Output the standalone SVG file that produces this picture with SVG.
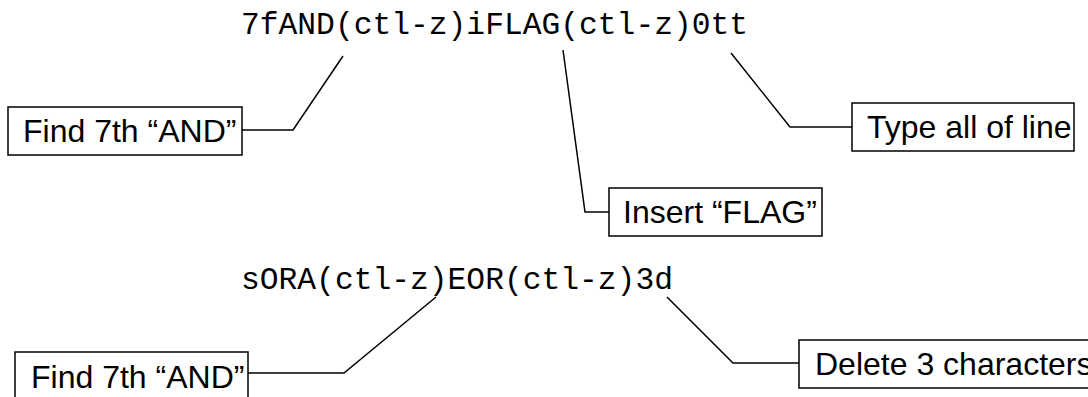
<svg xmlns="http://www.w3.org/2000/svg" width="1088" height="397" viewBox="0 0 1088 397">
<style>
.code{font-family:"Liberation Mono","Courier New",monospace;font-size:31.3px;fill:#000}
.lbl{font-family:"Liberation Sans",Arial,sans-serif;font-size:32px;fill:#000}
.box{fill:#fff;stroke:#000;stroke-width:1.5}
.conn{fill:none;stroke:#000;stroke-width:1.5}
</style>
<rect width="1088" height="397" fill="#fff"/>
<g id="code-top"><text class="code" x="241" y="34">7fAND(ctl-z)iFLAG(ctl-z)0tt</text></g>
<g id="code-bottom"><text class="code" x="241" y="289">sORA(ctl-z)EOR(ctl-z)3d</text></g>
<g id="connectors">
<polyline class="conn" points="343,56 293,130 242,130"/>
<polyline class="conn" points="563,50 585,212 609,212"/>
<polyline class="conn" points="731,53 790,127 852,127"/>
<polyline class="conn" points="436,297 344,373 248,373"/>
<polyline class="conn" points="667,297 733,363 799,363"/>
</g>
<g id="n-find-top"><rect class="box" x="8" y="107" width="234" height="48"/><text class="lbl" x="23" y="142">Find 7th “AND”</text></g>
<g id="n-insert"><rect class="box" x="609" y="188" width="213" height="48"/><text class="lbl" x="623" y="223">Insert “FLAG”</text></g>
<g id="n-type"><rect class="box" x="852" y="103" width="222" height="48"/><text class="lbl" x="867" y="138">Type all of line</text></g>
<g id="n-find-bottom"><rect class="box" x="15" y="352" width="233" height="48"/><text class="lbl" x="31" y="388">Find 7th “AND”</text></g>
<g id="n-delete"><rect class="box" x="799" y="340" width="300" height="48"/><text class="lbl" x="815" y="375">Delete 3 characters</text></g>
</svg>
